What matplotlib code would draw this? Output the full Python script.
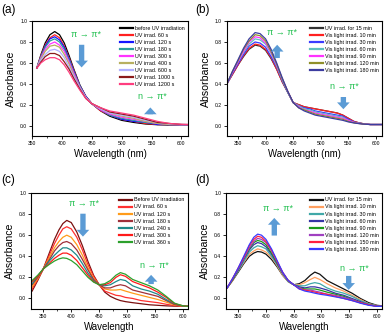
import matplotlib
matplotlib.use("Agg")
import matplotlib.pyplot as plt

plt.rcParams["font.family"] = ["Liberation Sans", "DejaVu Sans"]

# ---- panel (a): UV irradiation, peaks drop ----
wl_a = [358, 365, 372, 380, 388, 396, 404, 412, 420, 430, 440, 450, 465,
        480, 500, 520, 540, 560, 580, 600, 611]
labels_a = ["before UV irradiation", "UV irrad. 60 s", "UV irrad. 120 s",
            "UV irrad. 180 s", "UV irrad. 300 s", "UV irrad. 400 s",
            "UV irrad. 600 s", "UV irrad. 1000 s", "UV irrad. 1200 s"]
colors_a = ["#000000", "#ff2020", "#1515ff", "#2a9d9d", "#ff33ff",
            "#b8b060", "#b0b0ff", "#8b1a1a", "#ff3d7f"]
abs_a = [
    [.55, .68, .79, .87, .90, .87, .79, .67, .54, .39, .28, .21, .14, .09, .05, .03, .015, .008, .005, .004, .004],
    [.55, .67, .77, .84, .87, .84, .76, .65, .53, .38, .28, .21, .14, .10, .06, .04, .02, .01, .01, .005, .005],
    [.55, .66, .76, .83, .85, .82, .75, .64, .52, .38, .28, .21, .15, .10, .06, .04, .03, .01, .01, .006, .006],
    [.55, .66, .75, .81, .83, .80, .73, .63, .51, .38, .27, .21, .15, .10, .07, .05, .03, .02, .01, .007, .007],
    [.55, .65, .73, .78, .80, .77, .71, .61, .50, .37, .27, .21, .15, .11, .08, .06, .04, .02, .01, .008, .008],
    [.55, .64, .71, .76, .77, .75, .68, .59, .48, .36, .27, .21, .16, .12, .09, .07, .04, .02, .01, .009, .009],
    [.55, .63, .68, .72, .73, .71, .65, .56, .47, .36, .27, .21, .16, .12, .10, .08, .05, .03, .015, .01, .01],
    [.55, .61, .66, .69, .69, .67, .61, .54, .45, .35, .26, .21, .17, .13, .11, .09, .06, .03, .02, .011, .01],
    [.55, .60, .63, .65, .65, .63, .58, .51, .43, .34, .26, .21, .17, .14, .12, .10, .07, .04, .02, .012, .01],
]

# ---- panel (b): visible light recovery ----
wl_b = [330, 340, 350, 360, 370, 381, 390, 400, 410, 420, 430, 440, 450, 460,
        470, 480, 490, 500, 510, 520, 530, 540, 550, 560, 570, 580, 590, 600, 610]
labels_b = ["UV irrad. for 15 min", "Vis light irrad. 10 min",
            "Vis light irrad. 30 min", "Vis light irrad. 60 min",
            "Vis light irrad. 90 min", "Vis light irrad. 120 min",
            "Vis light irrad. 180 min"]
colors_b = ["#333333", "#ff2020", "#3b3bff", "#5fbfbf", "#ff33ff",
            "#8f8f2a", "#3c3ca0"]
abs_b = [
    [.40, .49, .58, .66, .73, .77, .76, .72, .64, .54, .42, .32, .22, .20, .18, .17, .16, .15, .14, .13, .12, .10, .07, .04, .025, .015, .01, .01, .01],
    [.40, .49, .58, .67, .74, .78, .77, .73, .65, .54, .42, .32, .22, .20, .18, .17, .16, .15, .14, .13, .12, .10, .07, .04, .025, .015, .01, .01, .01],
    [.40, .50, .59, .68, .76, .80, .79, .75, .66, .56, .43, .32, .22, .19, .17, .16, .14, .13, .12, .11, .10, .09, .06, .035, .023, .015, .01, .01, .01],
    [.40, .51, .61, .70, .78, .83, .82, .78, .69, .57, .44, .32, .22, .19, .16, .15, .13, .12, .11, .10, .09, .08, .05, .03, .022, .014, .01, .01, .01],
    [.40, .51, .61, .71, .80, .85, .84, .79, .70, .58, .45, .33, .22, .18, .15, .14, .12, .11, .10, .09, .08, .07, .05, .03, .02, .014, .01, .01, .01],
    [.40, .52, .62, .73, .81, .87, .86, .81, .71, .59, .45, .33, .22, .17, .15, .13, .11, .10, .09, .08, .07, .06, .04, .027, .019, .013, .01, .01, .01],
    [.40, .52, .63, .74, .83, .89, .88, .83, .73, .60, .46, .33, .22, .17, .14, .12, .10, .09, .08, .07, .06, .05, .035, .025, .018, .013, .01, .01, .01],
]

# ---- panels (c) and (d) share a wavelength grid ----
wl_cd = [330, 340, 350, 360, 370, 378, 385, 392, 400, 410, 420, 430, 440, 450,
         460, 470, 480, 488, 497, 510, 525, 540, 555, 570, 585, 600, 610]
labels_c = ["Before UV irradiation", "UV irrad. 60 s", "UV irrad. 120 s",
            "UV irrad. 180 s", "UV irrad. 240 s", "UV irrad. 300 s",
            "UV irrad. 360 s"]
colors_c = ["#7b1010", "#ff3030", "#ff9b1a", "#a0303a", "#1f8a8a",
            "#ff1a1a", "#2ca02c"]
abs_c = [
    [.07, .17, .28, .42, .56, .65, .71, .74, .72, .63, .50, .35, .22, .13, .06, .02, -.005, -.02, -.03, -.04, -.05, -.06, -.065, -.07, -.073, -.075, -.075],
    [.09, .18, .28, .40, .52, .60, .66, .68, .66, .58, .46, .32, .21, .13, .07, .05, .03, .025, .01, .00, -.02, -.03, -.04, -.055, -.068, -.074, -.075],
    [.11, .19, .28, .38, .48, .54, .58, .60, .58, .51, .41, .29, .19, .13, .09, .08, .08, .085, .07, .05, .03, .01, -.01, -.035, -.062, -.073, -.075],
    [.13, .20, .28, .36, .45, .50, .53, .54, .52, .46, .37, .27, .18, .13, .10, .10, .12, .13, .12, .08, .06, .04, .02, -.02, -.057, -.072, -.075],
    [.14, .21, .28, .35, .41, .45, .48, .48, .46, .41, .33, .24, .17, .13, .12, .13, .16, .18, .17, .12, .09, .07, .04, -.01, -.053, -.071, -.075],
    [.16, .21, .28, .33, .38, .41, .43, .43, .41, .36, .29, .22, .16, .13, .13, .15, .20, .225, .21, .16, .13, .10, .06, .01, -.05, -.07, -.075],
    [.17, .22, .28, .32, .355, .375, .385, .38, .36, .32, .26, .20, .155, .13, .14, .17, .22, .245, .23, .18, .15, .12, .08, .02, -.045, -.07, -.075],
]

labels_d = ["UV irrad. for 15 min", "Vis light irrad. 10 min",
            "Vis light irrad. 30 min", "Vis light irrad. 60 min",
            "Vis light irrad. 90 min", "Vis light irrad. 120 min",
            "Vis light irrad. 150 min", "Vis light irrad. 180 min"]
colors_d = ["#111111", "#ff9f60", "#40a8a8", "#3535a5", "#1a9a1a",
            "#a040c0", "#ff2040", "#3a3aff"]
abs_d = [
    [.10, .17, .25, .33, .40, .43, .445, .44, .42, .37, .30, .22, .16, .13, .14, .17, .22, .25, .23, .17, .13, .09, .05, .00, -.04, -.065, -.07],
    [.10, .17, .26, .34, .42, .45, .47, .46, .44, .39, .31, .22, .16, .13, .13, .15, .18, .20, .18, .14, .10, .07, .03, -.01, -.05, -.068, -.071],
    [.10, .18, .26, .35, .44, .48, .50, .49, .47, .40, .32, .23, .16, .13, .12, .12, .14, .15, .14, .10, .07, .05, .02, -.02, -.05, -.07, -.072],
    [.10, .18, .27, .37, .46, .51, .53, .52, .49, .42, .33, .24, .17, .13, .11, .10, .11, .11, .10, .08, .05, .03, .00, -.03, -.06, -.072, -.073],
    [.10, .18, .28, .38, .47, .53, .55, .54, .51, .43, .34, .24, .17, .13, .10, .09, .09, .09, .08, .06, .04, .02, -.01, -.04, -.06, -.073, -.074],
    [.10, .19, .28, .38, .48, .54, .57, .56, .53, .45, .35, .24, .17, .13, .10, .08, .08, .07, .06, .04, .03, .01, -.01, -.04, -.06, -.074, -.075],
    [.10, .19, .29, .39, .50, .56, .59, .58, .54, .46, .35, .25, .17, .13, .09, .08, .07, .06, .05, .04, .02, .00, -.02, -.04, -.06, -.075, -.075],
    [.10, .19, .29, .40, .51, .58, .61, .60, .56, .47, .36, .25, .17, .13, .09, .07, .06, .05, .04, .03, .015, .00, -.02, -.045, -.065, -.075, -.075],
]

GREEN = "#22c050"
ARROW = "#5b9bd5"

fig = plt.figure(figsize=(3.88, 3.35), dpi=100)
ax_a = fig.add_axes([0.0825, 0.594, 0.402, 0.343])
ax_b = fig.add_axes([0.585, 0.594, 0.3995, 0.343])
ax_c = fig.add_axes([0.0799, 0.0776, 0.4046, 0.3463])
ax_d = fig.add_axes([0.5825, 0.0776, 0.402, 0.3463])


def drawPanel(ax, wl, series, labels, colors, xlim, xlabel):
    for ys, lab, col in zip(series, labels, colors):
        ax.plot(wl, ys, color=col, lw=0.9, label=lab)
    ax.set_xlim(*xlim)
    ax.set_ylim(-0.1, 1.0)
    ax.set_xticks([350, 400, 450, 500, 550, 600])
    ax.set_xticks(range(375, 611, 50), minor=True)
    ax.set_yticks([0.0, 0.2, 0.4, 0.6, 0.8, 1.0])
    ax.tick_params(labelsize=3.6, length=2, width=0.6, pad=1.5)
    ax.tick_params(which="minor", length=1.3, width=0.5)
    for s in ax.spines.values():
        s.set_linewidth(0.8)
    ax.set_xlabel(xlabel, fontsize=6.9, labelpad=2)
    ax.set_ylabel("Absorbance", fontsize=7.6, labelpad=3)
    leg = ax.legend(loc="upper right", fontsize=3.9, frameon=False,
                    handlelength=2.4, handletextpad=0.4, labelspacing=0.38,
                    borderaxespad=0.2, bbox_to_anchor=(1.0, 0.99))
    for h in leg.legend_handles:
        h.set_linewidth(1.6)


def addArrow(ax, x, y0, y1):
    ax.annotate("", xy=(x, y1), xytext=(x, y0),
                arrowprops=dict(arrowstyle="simple,head_length=0.7,head_width=1.3,tail_width=0.55",
                                color=ARROW, lw=0, mutation_scale=7))


def addNote(ax, x, y, text):
    ax.text(x, y, text, color=GREEN, fontsize=6.5, ha="center", va="center")


drawPanel(ax_a, wl_a, abs_a, labels_a, colors_a, (358, 611), "Wavelength (nm)")
drawPanel(ax_b, wl_b, abs_b, labels_b, colors_b, (330, 611), "Wavelength (nm)")
drawPanel(ax_c, wl_cd, abs_c, labels_c, colors_c, (328, 609), "Wavelength")
drawPanel(ax_d, wl_cd, abs_d, labels_d, colors_d, (328, 609), "Wavelength")

addNote(ax_a, 441, 0.875, "π → π*")
addArrow(ax_a, 433, 0.80, 0.53)
addNote(ax_a, 552, 0.275, "n → π*")
addArrow(ax_a, 548, 0.08, 0.20)

addNote(ax_b, 429, 0.89, "π → π*")
addArrow(ax_b, 421, 0.62, 0.80)
addNote(ax_b, 542, 0.37, "n → π*")
addArrow(ax_b, 541, 0.30, 0.13)

addNote(ax_c, 423, 0.905, "π → π*")
addArrow(ax_c, 421, 0.83, 0.56)
addNote(ax_c, 548, 0.31, "n → π*")
addArrow(ax_c, 543, 0.11, 0.25)

addNote(ax_d, 421, 0.85, "π → π*")
addArrow(ax_d, 415, 0.57, 0.79)
addNote(ax_d, 559, 0.286, "n → π*")
addArrow(ax_d, 549, 0.24, 0.055)

for lab, x, y in [("(a)", 0.003, 0.97), ("(b)", 0.503, 0.97),
                  ("(c)", 0.003, 0.462), ("(d)", 0.503, 0.462)]:
    fig.text(x, y, lab, fontsize=8.5, ha="left", va="center")

fig.savefig("out.png", dpi=100)
